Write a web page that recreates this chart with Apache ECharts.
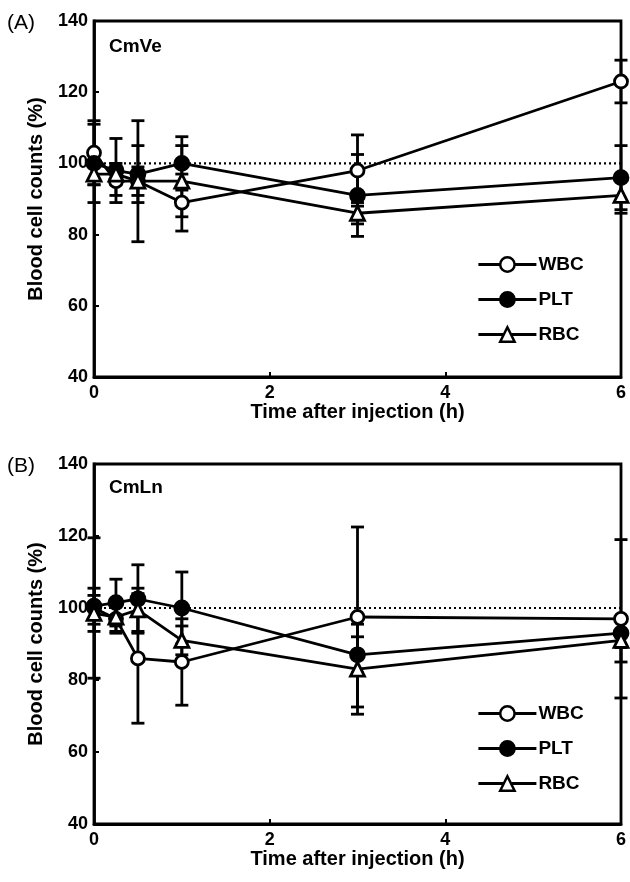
<!DOCTYPE html>
<html>
<head>
<meta charset="utf-8">
<script src="https://cdn.jsdelivr.net/npm/echarts@6/dist/echarts.min.js"></script>
<style>
  html, body { margin: 0; padding: 0; background: #fff; }
  #main { width: 630px; height: 882px; }
</style>
</head>
<body>
<div id="main"></div>
<script>
// time points (h)
const hours = [0, 0.25, 0.5, 1, 3, 6];
const refLine = [100, 100];
const refHours = [0, 6];

// (A) CmVe
const wbcA = [103, 95, 95, 89, 98, 123];
const wbcA_sd = [9, 4, 17, 8, 10, 6];
const pltA = [100, 98, 97, 100, 91, 96];
const pltA_sd = [11, 9, 8, 7.5, 11.5, 9];
const rbcA = [97, 97, 95, 95, 86, 91];
const rbcA_sd = [3, 3, 4, 10, 3, 5];

// (B) CmLn
const wbcB = [100, 97, 86, 85, 97.5, 97];
const wbcB_sd = [19.5, 4, 18, 12, 25, 22];
const pltB = [100.5, 101.5, 102.5, 100, 87, 93];
const pltB_sd = [5, 6.5, 9.5, 10, 5, 4];
const rbcB = [98.5, 97.5, 99.5, 91, 83, 91];
const rbcB_sd = [5, 4, 6, 4, 12.5, 6];

const font = "'Liberation Sans', Arial, sans-serif";
const chart = echarts.init(document.getElementById("main"));

function pairs(vals) {
  return hours.map((h, i) => [h, vals[i]]);
}
function bars(vals, sd) {
  return hours.map((h, i) => [h, vals[i] - sd[i], vals[i] + sd[i]]);
}

// vertical error bar with caps
function errorItem(params, api) {
  const x = api.value(0);
  const lo = api.coord([x, api.value(1)]);
  const hi = api.coord([x, api.value(2)]);
  const w = 6.5;
  const st = { stroke: "#000", lineWidth: 2.8 };
  return {
    type: "group",
    children: [
      { type: "line", shape: { x1: lo[0], y1: lo[1], x2: hi[0], y2: hi[1] }, style: st },
      { type: "line", shape: { x1: lo[0] - w, y1: lo[1], x2: lo[0] + w, y2: lo[1] }, style: st },
      { type: "line", shape: { x1: hi[0] - w, y1: hi[1], x2: hi[0] + w, y2: hi[1] }, style: st }
    ]
  };
}

function xAxisOf(idx) {
  return {
    gridIndex: idx, type: "value", min: 0, max: 6, interval: 2,
    name: "Time after injection (h)", nameLocation: "middle", nameGap: 13,
    nameTextStyle: { fontFamily: font, fontWeight: "bold", fontSize: 20, color: "#000" },
    axisLine: { lineStyle: { color: "#000", width: 2.8 } },
    axisTick: { inside: true, length: 5, lineStyle: { width: 2 } },
    axisLabel: { fontFamily: font, fontWeight: "bold", fontSize: 18, color: "#000", margin: 7 },
    splitLine: { show: false }
  };
}
function yAxisOf(idx) {
  return {
    gridIndex: idx, type: "value", min: 40, max: 140, interval: 20,
    name: "Blood cell counts (%)", nameLocation: "middle", nameGap: 48,
    nameTextStyle: { fontFamily: font, fontWeight: "bold", fontSize: 20, color: "#000" },
    axisLine: { lineStyle: { color: "#000", width: 2.8 } },
    axisTick: { inside: true, length: 5, lineStyle: { width: 2 } },
    axisLabel: { fontFamily: font, fontWeight: "bold", fontSize: 18, color: "#000", margin: 6 },
    splitLine: { show: false }
  };
}

function panelSeries(idx, sets) {
  const out = [];
  sets.forEach(s => {
    out.push({
      type: "custom", xAxisIndex: idx, yAxisIndex: idx, silent: true, z: 1,
      renderItem: errorItem, encode: { x: 0, y: [1, 2] }, data: bars(s.vals, s.sd)
    });
  });
  out.push({
    type: "line", xAxisIndex: idx, yAxisIndex: idx, silent: true, z: 1,
    symbol: "none", data: refHours.map((h, i) => [h, refLine[i]]),
    lineStyle: { color: "#000", width: 2.2, type: [2, 3] }
  });
  sets.forEach(s => {
    out.push({
      name: s.name, type: "line", xAxisIndex: idx, yAxisIndex: idx, z: 3,
      symbol: s.symbol, symbolSize: s.size,
      itemStyle: { color: s.fill, borderColor: "#000", borderWidth: 2.8 },
      lineStyle: { color: "#000", width: 2.8 },
      data: pairs(s.vals)
    });
  });
  return out;
}

const setsA = [
  { name: "WBC", vals: wbcA, sd: wbcA_sd, symbol: "circle", size: 13, fill: "#fff" },
  { name: "PLT", vals: pltA, sd: pltA_sd, symbol: "circle", size: 14, fill: "#000" },
  { name: "RBC", vals: rbcA, sd: rbcA_sd, symbol: "triangle", size: 14, fill: "#fff" }
];
const setsB = [
  { name: "WBC", vals: wbcB, sd: wbcB_sd, symbol: "circle", size: 13, fill: "#fff" },
  { name: "PLT", vals: pltB, sd: pltB_sd, symbol: "circle", size: 14, fill: "#000" },
  { name: "RBC", vals: rbcB, sd: rbcB_sd, symbol: "triangle", size: 14, fill: "#fff" }
];

const legendBase = {
  orient: "vertical", itemWidth: 58, itemHeight: 18, itemGap: 16,
  lineStyle: { width: 2.8 },
  itemStyle: { borderWidth: 2.5 },
  textStyle: { fontFamily: font, fontWeight: "bold", fontSize: 19, color: "#000", padding: [0, 0, 0, -3] },
  data: ["WBC", "PLT", "RBC"], selectedMode: false
};

chart.setOption({
  animation: false,
  backgroundColor: "#fff",
  grid: [
    { left: 94, right: 9, top: 21, height: 356, show: true, borderColor: "#000", borderWidth: 2.8 },
    { left: 94, right: 9, top: 464, height: 360, show: true, borderColor: "#000", borderWidth: 2.8 }
  ],
  xAxis: [xAxisOf(0), xAxisOf(1)],
  yAxis: [yAxisOf(0), yAxisOf(1)],
  legend: [
    Object.assign({ left: 472, top: 250 }, legendBase),
    Object.assign({ left: 472, top: 699 }, legendBase)
  ],
  graphic: [
    { type: "text", left: 7, top: 13, style: { text: "(A)", font: "21px " + font, fill: "#000" } },
    { type: "text", left: 109, top: 37, style: { text: "CmVe", font: "bold 19px " + font, fill: "#000" } },
    { type: "text", left: 7, top: 456, style: { text: "(B)", font: "21px " + font, fill: "#000" } },
    { type: "text", left: 109, top: 478, style: { text: "CmLn", font: "bold 19px " + font, fill: "#000" } }
  ],
  series: panelSeries(0, setsA).concat(panelSeries(1, setsB))
});
</script>
</body>
</html>
